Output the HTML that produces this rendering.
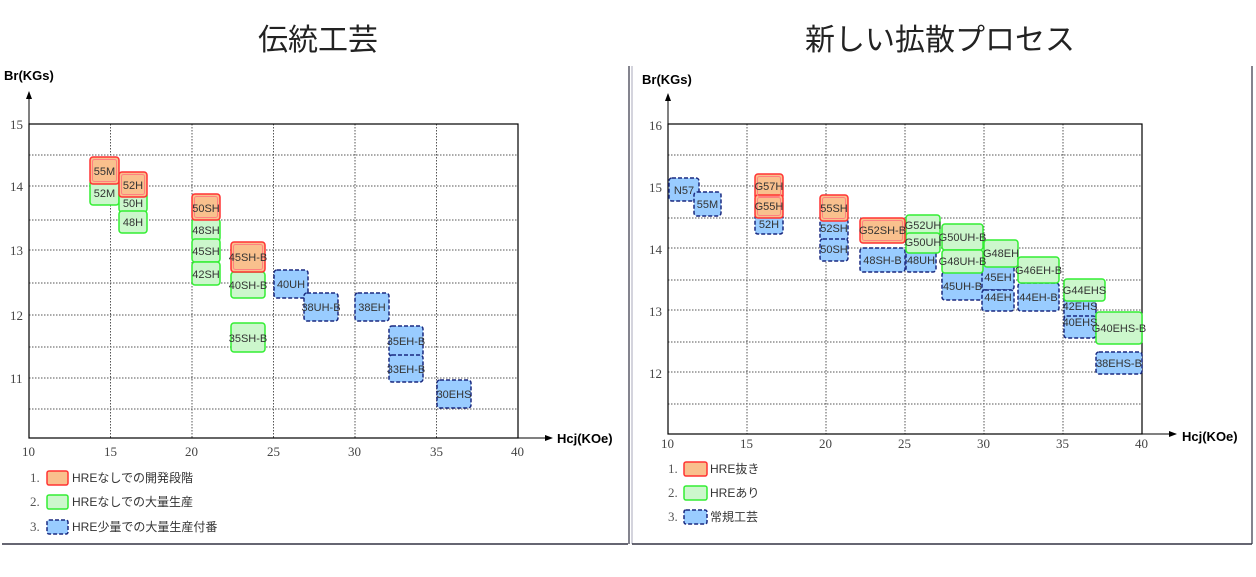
<!DOCTYPE html>
<html><head><meta charset="utf-8"><style>
body{margin:0;background:#fff;width:1256px;height:572px;overflow:hidden}
svg text{font-family:"Liberation Sans","Noto Sans CJK JP",sans-serif}
svg text.s{font-family:"Liberation Serif",serif}
</style></head><body>
<svg width="1256" height="572" xmlns="http://www.w3.org/2000/svg">
<defs>
<marker id="ar" markerWidth="8" markerHeight="8" refX="7" refY="4" orient="auto"><path d="M0,1 L8,4 L0,7z" fill="#000"/></marker>
</defs>
<text x="318" y="50" font-size="30" text-anchor="middle" fill="#222">伝統工芸</text>
<text x="940" y="50" font-size="30" text-anchor="middle" fill="#222">新しい拡散プロセス</text>
<line x1="2" y1="544" x2="628" y2="544" stroke="#334" stroke-width="1.5"/>
<line x1="629" y1="66" x2="629" y2="544" stroke="#334" stroke-width="1.2"/>
<line x1="632" y1="66" x2="632" y2="544" stroke="#aab" stroke-width="1"/>
<line x1="632" y1="544" x2="1252" y2="544" stroke="#334" stroke-width="1.5"/>
<line x1="1252" y1="66" x2="1252" y2="544" stroke="#334" stroke-width="1.2"/>

<!-- LEFT CHART -->
<g font-size="11">
<text x="4" y="80" font-size="13" font-weight="bold">Br(KGs)</text>
<line x1="29" y1="438" x2="29" y2="92" stroke="#000" marker-end="url(#ar)"/>
<line x1="518" y1="438" x2="552" y2="438" stroke="#000" marker-end="url(#ar)"/>
<text x="557" y="443" font-size="13" font-weight="bold">Hcj(KOe)</text>
<g stroke="#555" stroke-dasharray="1.5,1.5" stroke-width="1">
<line x1="29" y1="155" x2="518" y2="155"/><line x1="29" y1="186" x2="518" y2="186"/>
<line x1="29" y1="220" x2="518" y2="220"/><line x1="29" y1="250" x2="518" y2="250"/>
<line x1="29" y1="283" x2="518" y2="283"/><line x1="29" y1="315" x2="518" y2="315"/>
<line x1="29" y1="347" x2="518" y2="347"/><line x1="29" y1="378" x2="518" y2="378"/>
<line x1="29" y1="409" x2="518" y2="409"/>
<line x1="110.5" y1="124" x2="110.5" y2="438"/><line x1="192" y1="124" x2="192" y2="438"/>
<line x1="273.5" y1="124" x2="273.5" y2="438"/><line x1="355" y1="124" x2="355" y2="438"/>
<line x1="436.5" y1="124" x2="436.5" y2="438"/>
</g>
<rect x="29" y="124" width="489" height="314" fill="none" stroke="#000" stroke-width="1.2"/>
<g fill="#444" font-size="13">
<text class="s" x="10" y="129">15</text><text class="s" x="10" y="191">14</text><text class="s" x="10" y="255">13</text><text class="s" x="10" y="320">12</text><text class="s" x="10" y="383">11</text>
<text class="s" x="22" y="456">10</text><text class="s" x="104" y="456">15</text><text class="s" x="185" y="456">20</text><text class="s" x="267" y="456">25</text><text class="s" x="348" y="456">30</text><text class="s" x="430" y="456">35</text><text class="s" x="511" y="456">40</text>
</g>
</g>

<g font-size="11" text-anchor="middle" fill="#333">
<g fill="#ccf7cc" stroke="#33ee33" stroke-width="1.5">
<rect x="90" y="180" width="29" height="25" rx="3"/>
<rect x="119" y="192" width="28" height="20" rx="3"/>
<rect x="119" y="211" width="28" height="22" rx="3"/>
<rect x="192" y="219" width="28" height="22" rx="3"/>
<rect x="192" y="239" width="28" height="23" rx="3"/>
<rect x="192" y="262" width="28" height="23" rx="3"/>
<rect x="231" y="272" width="34" height="26" rx="3"/>
<rect x="231" y="323" width="34" height="29" rx="3"/>
</g>
<g fill="#99ccff" stroke="#1a2a80" stroke-width="1.5" stroke-dasharray="4,2">
<rect x="274" y="270" width="34" height="28" rx="3"/>
<rect x="304" y="293" width="34" height="28" rx="3"/>
<rect x="355" y="293" width="34" height="28" rx="3"/>
<rect x="389" y="326" width="34" height="30" rx="3"/>
<rect x="389" y="355" width="34" height="27" rx="3"/>
<rect x="437" y="380" width="34" height="28" rx="3"/>
</g>
<g fill="#f9c08d" stroke="#ff3333" stroke-width="1.5">
<rect x="90" y="157" width="29" height="27" rx="3"/>
<rect x="119" y="172" width="28" height="25" rx="3"/>
<rect x="192" y="194" width="28" height="26" rx="3"/>
<rect x="231" y="242" width="34" height="30" rx="3"/>
</g>
<g fill="none" stroke="#ff8080" stroke-width="1">
<rect x="92.5" y="159.5" width="24" height="22" rx="2"/>
<rect x="121.5" y="174.5" width="23" height="20" rx="2"/>
<rect x="194.5" y="196.5" width="23" height="21" rx="2"/>
<rect x="233.5" y="244.5" width="29" height="25" rx="2"/>
</g>
<text x="104.5" y="175">55M</text><text x="104.5" y="197">52M</text>
<text x="133" y="189">52H</text><text x="133" y="207">50H</text><text x="133" y="226">48H</text>
<text x="206" y="212">50SH</text><text x="206" y="234">48SH</text><text x="206" y="255">45SH</text><text x="206" y="278">42SH</text>
<text x="248" y="261">45SH-B</text><text x="248" y="289">40SH-B</text><text x="248" y="342">35SH-B</text>
<text x="291" y="288">40UH</text><text x="321" y="311">38UH-B</text><text x="372" y="311">38EH</text>
<text x="406" y="345">35EH-B</text><text x="406" y="373">33EH-B</text><text x="454" y="398">30EHS</text>
</g>

<g font-size="12" fill="#333">
<text class="s" x="30" y="482" font-size="13" fill="#555">1.</text>
<rect x="47" y="471" width="21" height="14" rx="2" fill="#f9c08d" stroke="#ff3333" stroke-width="1.5"/>
<text x="72" y="482">HREなしでの開発段階</text>
<text class="s" x="30" y="506" font-size="13" fill="#555">2.</text>
<rect x="47" y="495" width="21" height="14" rx="2" fill="#ccf7cc" stroke="#33ee33" stroke-width="1.5"/>
<text x="72" y="506">HREなしでの大量生産</text>
<text class="s" x="30" y="531" font-size="13" fill="#555">3.</text>
<rect x="47" y="520" width="21" height="14" rx="2" fill="#99ccff" stroke="#1a2a80" stroke-width="1.5" stroke-dasharray="4,2"/>
<text x="72" y="531">HRE少量での大量生産付番</text>
</g>

<!-- RIGHT CHART -->
<g font-size="11">
<text x="642" y="84" font-size="13" font-weight="bold">Br(KGs)</text>
<line x1="668" y1="434" x2="668" y2="94" stroke="#000" marker-end="url(#ar)"/>
<line x1="1142" y1="434" x2="1176" y2="434" stroke="#000" marker-end="url(#ar)"/>
<text x="1182" y="441" font-size="13" font-weight="bold">Hcj(KOe)</text>
<g stroke="#555" stroke-dasharray="1.5,1.5" stroke-width="1">
<line x1="668" y1="155" x2="1142" y2="155"/><line x1="668" y1="186" x2="1142" y2="186"/>
<line x1="668" y1="218" x2="1142" y2="218"/><line x1="668" y1="248" x2="1142" y2="248"/>
<line x1="668" y1="280" x2="1142" y2="280"/><line x1="668" y1="310" x2="1142" y2="310"/>
<line x1="668" y1="342" x2="1142" y2="342"/><line x1="668" y1="372" x2="1142" y2="372"/>
<line x1="668" y1="404" x2="1142" y2="404"/>
<line x1="747" y1="124" x2="747" y2="434"/><line x1="826" y1="124" x2="826" y2="434"/>
<line x1="905" y1="124" x2="905" y2="434"/><line x1="984" y1="124" x2="984" y2="434"/>
<line x1="1063" y1="124" x2="1063" y2="434"/>
</g>
<rect x="668" y="124" width="474" height="310" fill="none" stroke="#000" stroke-width="1.2"/>
<g fill="#444" font-size="13">
<text class="s" x="649" y="130">16</text><text class="s" x="649" y="192">15</text><text class="s" x="649" y="254">14</text><text class="s" x="649" y="316">13</text><text class="s" x="649" y="378">12</text>
<text class="s" x="661" y="448">10</text><text class="s" x="740" y="448">15</text><text class="s" x="819" y="448">20</text><text class="s" x="898" y="448">25</text><text class="s" x="977" y="448">30</text><text class="s" x="1056" y="448">35</text><text class="s" x="1135" y="448">40</text>
</g>
</g>

<g font-size="11" text-anchor="middle" fill="#333">
<g fill="#99ccff" stroke="#1a2a80" stroke-width="1.5" stroke-dasharray="4,2">
<rect x="669" y="178" width="30" height="23" rx="3"/>
<rect x="694" y="192" width="27" height="24" rx="3"/>
<rect x="755" y="214" width="28" height="20" rx="3"/>
<rect x="820" y="219" width="28" height="21" rx="3"/>
<rect x="820" y="239" width="28" height="22" rx="3"/>
<rect x="860" y="248" width="45" height="24" rx="3"/>
<rect x="906" y="249" width="30" height="23" rx="3"/>
<rect x="942" y="272" width="41" height="28" rx="3"/>
<rect x="982" y="265" width="32" height="25" rx="3"/>
<rect x="982" y="290" width="32" height="21" rx="3"/>
<rect x="1018" y="283" width="41" height="28" rx="3"/>
<rect x="1064" y="295" width="32" height="23" rx="3"/>
<rect x="1064" y="316" width="32" height="22" rx="3"/>
<rect x="1096" y="352" width="46" height="22" rx="3"/>
</g>
<g fill="#ccf7cc" stroke="#33ee33" stroke-width="1.5">
<rect x="906" y="215" width="34" height="21" rx="3"/>
<rect x="906" y="233" width="34" height="20" rx="3"/>
<rect x="942" y="224" width="41" height="26" rx="3"/>
<rect x="942" y="250" width="41" height="23" rx="3"/>
<rect x="984" y="240" width="34" height="27" rx="3"/>
<rect x="1018" y="257" width="41" height="26" rx="3"/>
<rect x="1064" y="279" width="41" height="22" rx="3"/>
<rect x="1096" y="312" width="46" height="32" rx="3"/>
</g>
<g fill="#f9c08d" stroke="#ff3333" stroke-width="1.5">
<rect x="755" y="174" width="28" height="25" rx="3"/>
<rect x="755" y="195" width="28" height="23" rx="3"/>
<rect x="820" y="195" width="28" height="26" rx="3"/>
<rect x="860" y="218" width="45" height="25" rx="3"/>
</g>
<g fill="none" stroke="#ff8080" stroke-width="1">
<rect x="757.5" y="176.5" width="23" height="20" rx="2"/>
<rect x="757.5" y="197.5" width="23" height="18" rx="2"/>
<rect x="822.5" y="197.5" width="23" height="21" rx="2"/>
<rect x="862.5" y="220.5" width="40" height="20" rx="2"/>
</g>
<text x="684" y="194">N57</text><text x="707.5" y="208">55M</text>
<text x="769" y="190">G57H</text><text x="769" y="210">G55H</text><text x="769" y="228">52H</text>
<text x="834" y="212">55SH</text><text x="834" y="232">52SH</text><text x="834" y="253">50SH</text>
<text x="882.5" y="234">G52SH-B</text><text x="882.5" y="264">48SH-B</text>
<text x="923" y="229">G52UH</text><text x="923" y="246">G50UH</text><text x="921" y="264">48UH</text>
<text x="962.5" y="241">G50UH-B</text><text x="962.5" y="265">G48UH-B</text><text x="962.5" y="290">45UH-B</text>
<text x="1001" y="257">G48EH</text><text x="998" y="281">45EH</text><text x="998" y="301">44EH</text>
<text x="1038.5" y="274">G46EH-B</text><text x="1038.5" y="301">44EH-B</text>
<text x="1084.5" y="294">G44EHS</text><text x="1080" y="310">42EHS</text><text x="1080" y="326">40EHS</text>
<text x="1119" y="332">G40EHS-B</text><text x="1119" y="367">38EHS-B</text>
</g>

<g font-size="12" fill="#333">
<text class="s" x="668" y="473" font-size="13" fill="#555">1.</text>
<rect x="684" y="462" width="23" height="14" rx="2" fill="#f9c08d" stroke="#ff3333" stroke-width="1.5"/>
<text x="710" y="473">HRE抜き</text>
<text class="s" x="668" y="497" font-size="13" fill="#555">2.</text>
<rect x="684" y="486" width="23" height="14" rx="2" fill="#ccf7cc" stroke="#33ee33" stroke-width="1.5"/>
<text x="710" y="497">HREあり</text>
<text class="s" x="668" y="521" font-size="13" fill="#555">3.</text>
<rect x="684" y="510" width="23" height="14" rx="2" fill="#99ccff" stroke="#1a2a80" stroke-width="1.5" stroke-dasharray="4,2"/>
<text x="710" y="521">常規工芸</text>
</g>
</svg>
</body></html>
